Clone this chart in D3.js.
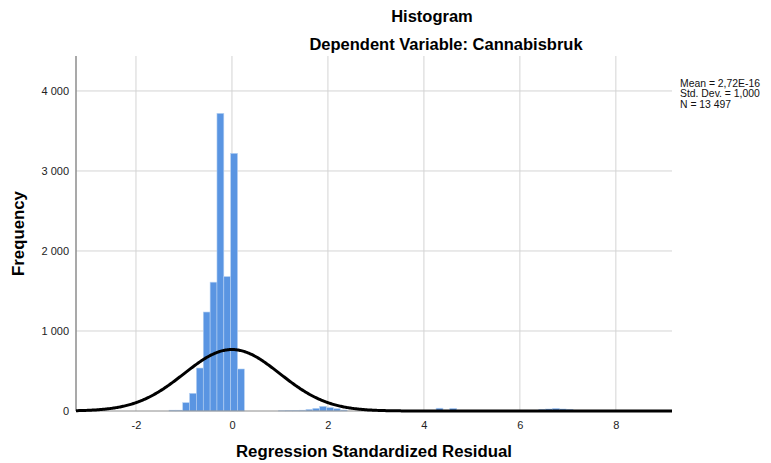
<!DOCTYPE html>
<html><head><meta charset="utf-8">
<script src="https://cdn.jsdelivr.net/npm/d3@7"></script>
<style>body{margin:0;background:#fff}svg{display:block}</style>
</head><body>
<svg id="c" width="771" height="463"></svg>
<script>
// ---- data ----
const binOrigin = -0.027;          // left edge of bin index 0
const binWidth = 0.1427;           // width of one bin (residual units)
const binIndex = [-9,-8,-7,-6,-5,-4,-3,-2,-1,0,1, 7,8,9,10,11,12,13,14,15,16, 30,31,32, 45,46,47,48,49];
const counts   = [10,10,104,221,537,1237,1610,3720,1680,3220,525, 3,5,8,10,20,33,58,42,28,12, 35,3,32, 20,25,32,25,20];
const xTicks = [-2,0,2,4,6,8];
const yTicks = [0,1000,2000,3000,4000];
const statMean = 2.72e-16, statSD = 1.0, statN = 13497;
const legendLines = ["Mean = 2,72E-16","Std. Dev. = 1,000","N = 13 497"];
const titleText = "Histogram";
const subtitleText = "Dependent Variable: Cannabisbruk";
const xTitle = "Regression Standardized Residual";
const yTitle = "Frequency";

const svg = d3.select("#c");
const font = "Arial, 'Liberation Sans', sans-serif";
const L = 76, R = 672, T = 56, B = 411;
const x = d3.scaleLinear().domain([-3.25, 9.17]).range([L, R]);
const y = d3.scaleLinear().domain([0, 4437]).range([B, T]);

// gridlines
const g = svg.append("g");
g.selectAll("line.v").data(xTicks).join("line")
  .attr("x1", d => x(d)).attr("x2", d => x(d)).attr("y1", T).attr("y2", B)
  .attr("stroke", "#d4d4d4").attr("stroke-width", 1);
g.selectAll("line.h").data(yTicks.slice(1)).join("line")
  .attr("x1", L).attr("x2", R).attr("y1", d => y(d)).attr("y2", d => y(d))
  .attr("stroke", "#d4d4d4").attr("stroke-width", 1);

// bars
const bins = binIndex.map((k, i) => ({x0: binOrigin + k*binWidth, x1: binOrigin + (k+1)*binWidth, n: counts[i]}));
svg.append("g").selectAll("rect").data(bins).join("rect")
  .attr("x", d => x(d.x0)).attr("width", d => x(d.x1) - x(d.x0))
  .attr("y", d => y(d.n)).attr("height", d => B - y(d.n))
  .attr("fill", "#5a95e2").attr("stroke", "#b5d0f2").attr("stroke-width", 0.6);

// axes lines
svg.append("line").attr("x1", L).attr("x2", L).attr("y1", T).attr("y2", B)
  .attr("stroke", "#8c8c8c").attr("stroke-width", 1.5);
svg.append("line").attr("x1", L).attr("x2", R).attr("y1", B).attr("y2", B)
  .attr("stroke", "#8c8c8c").attr("stroke-width", 1);

// normal curve
const scale = statN * binWidth;
const pts = d3.range(x.domain()[0], x.domain()[1] + 0.001, 0.02).map(v => [v, scale * Math.exp(-0.5*((v-statMean)/statSD)**2) / (statSD*Math.sqrt(2*Math.PI))]);
svg.append("path").datum(pts)
  .attr("d", d3.line().x(d => x(d[0])).y(d => y(d[1])))
  .attr("fill", "none").attr("stroke", "#000").attr("stroke-width", 3);

// axes ticks labels
const xa = svg.append("g").attr("transform", `translate(0,${B})`)
  .call(d3.axisBottom(x).tickValues(xTicks).tickSize(0).tickPadding(10).tickFormat(d => String(d)));
const ya = svg.append("g").attr("transform", `translate(${L},0)`)
  .call(d3.axisLeft(y).tickValues(yTicks).tickSize(0).tickPadding(7).tickFormat(d => d3.format(",")(d).replace(/,/g, " ")));
[xa, ya].forEach(a => {
  a.select(".domain").remove();
  a.selectAll("text").attr("font-family", font).attr("font-size", 11).attr("fill", "#222");
});
xa.selectAll("text").attr("dy", "0.71em");

// titles
svg.append("text").attr("x", 432).attr("y", 22).attr("text-anchor", "middle")
  .attr("font-family", font).attr("font-weight", "bold").attr("font-size", 16.5).text(titleText);
svg.append("text").attr("x", 446).attr("y", 50).attr("text-anchor", "middle")
  .attr("font-family", font).attr("font-weight", "bold").attr("font-size", 16.5).text(subtitleText);
svg.append("text").attr("x", (L+R)/2).attr("y", 457).attr("text-anchor", "middle")
  .attr("font-family", font).attr("font-weight", "bold").attr("font-size", 16.8).text(xTitle);
svg.append("text").attr("transform", `translate(24,${(T+B)/2}) rotate(-90)`).attr("text-anchor", "middle")
  .attr("font-family", font).attr("font-weight", "bold").attr("font-size", 16.8).text(yTitle);

// legend
svg.append("g").selectAll("text").data(legendLines).join("text")
  .attr("x", 680).attr("y", (d, i) => 86.5 + i*10.6)
  .attr("font-family", font).attr("font-size", 10.4).attr("fill", "#111").text(d => d);
</script>
</body></html>
